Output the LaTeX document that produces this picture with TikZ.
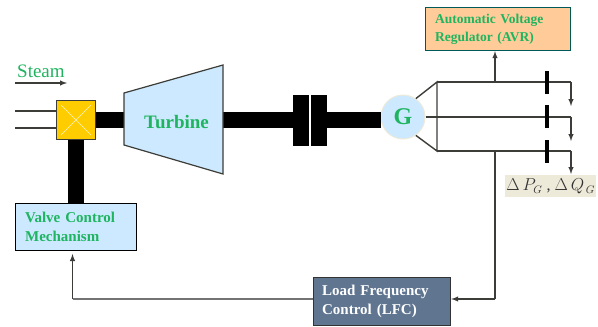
\documentclass[tikz,border=0pt]{standalone}
\usepackage{fontspec}
\setmainfont{Liberation Serif}
\definecolor{boxblue}{HTML}{CCE9FF}
\definecolor{boxorange}{HTML}{FFCC99}
\definecolor{boxslate}{HTML}{5F7590}
\definecolor{valveyellow}{HTML}{FFCC00}
\definecolor{labelgreen}{HTML}{1FB45F}
\definecolor{labelbeige}{HTML}{EEEADA}
\definecolor{linegray}{HTML}{3C3C38}
\tikzset{
	shaft/.style={line width=16pt,black},
	wire/.style={line width=1.4pt,linegray},
	wirearrow/.style={wire,-latex},
	breaker/.style={draw=none,fill=black,minimum width=3.5pt,minimum height=23pt,inner sep=0pt},
	ctrlbox/.style={draw,line width=1.2pt,align=left,anchor=north west,inner sep=0pt,font=\fontsize{15}{19}\selectfont\bfseries},
	couplingbox/.style={fill=black,minimum width=16pt,minimum height=51pt,inner sep=0pt}
}
\begin{document}
\begin{tikzpicture}[x=1pt,y=-1pt]
	\useasboundingbox[fill=white] (0,0) rectangle (598,327);
	% named points
	\coordinate (inA) at (15,111);
	\coordinate (inB) at (15,128);
	\coordinate (turbineIn) at (124,120);
	\coordinate (turbineOut) at (223,120);
	\coordinate (busTop) at (437,82);
	\coordinate (busBottom) at (437,151);
	\coordinate (topEnd) at (571,82);
	\coordinate (midEnd) at (571,117);
	\coordinate (lowEnd) at (571,151);
	\coordinate (topTip) at (571,106);
	\coordinate (midTip) at (571,141);
	\coordinate (lowTip) at (571,174);
	\coordinate (avrTap) at (495,82);
	\coordinate (lfcTap) at (495,151);
	\coordinate (lfcCorner) at (495,299);
	\coordinate (valveCorner) at (72.5,299);
	\coordinate (valveTip) at (72.5,254);
	\coordinate (steamA) at (15,83);
	\coordinate (steamB) at (67,83);

	% boxes
	\node[draw=linegray,line width=1.2pt,fill=valveyellow,minimum size=39pt,inner sep=0pt] (valve) at (76,120) {};
	\node[ctrlbox,fill=boxblue,minimum width=121pt,minimum height=47pt,text width=118pt,draw=black] (vcm) at (15,203) {\hspace*{8pt}\textcolor{labelgreen}{Valve Control}\\\hspace*{8pt}\textcolor{labelgreen}{Mechanism}};
	\node[ctrlbox,fill=boxorange,minimum width=145pt,minimum height=43pt,text width=142pt,draw=teal!70!black,font=\fontsize{13.5}{17.5}\selectfont\bfseries] (avr) at (425,7) {\hspace*{8pt}\textcolor{labelgreen}{Automatic Voltage}\\\hspace*{8pt}\textcolor{labelgreen}{Regulator (AVR)}};
	\node[ctrlbox,fill=boxslate,minimum width=137pt,minimum height=48pt,text width=134pt,draw=black!80] (lfc) at (313,277) {\hspace*{7pt}\textcolor{white}{Load Frequency}\\\hspace*{7pt}\textcolor{white}{Control (LFC)}};

	% shafts
	\node[couplingbox] (couplingA) at (301,120) {};
	\node[couplingbox] (couplingB) at (319,120) {};
	\node[circle,fill=boxblue,draw=labelbeige,line width=1pt,minimum size=44pt,inner sep=0pt,font=\fontsize{24}{24}\selectfont\bfseries,text=labelgreen] (gen) at (403,117) {G};
	\draw[shaft] (valve.east |- turbineIn) -- (turbineIn);
	\draw[shaft] (turbineOut) -- (couplingA.west);
	\draw[shaft] (couplingB.east) -- (gen.west |- couplingB.east);
	\draw[shaft] (valve.south) -- (valve.south |- vcm.north);

	% valve cross
	\draw[white!80!valveyellow,line width=0.7pt] (61,105) -- (91,135);
	\draw[white!80!valveyellow,line width=0.7pt] (91,105) -- (61,135);

	% turbine
	\draw[linegray,line width=1.2pt,fill=boxblue] (124,93) -- (223,65) -- (223,174) -- (124,145) -- cycle;
	\node[font=\fontsize{19}{19}\selectfont\bfseries,text=labelgreen] (turbine) at (176.5,122) {Turbine};

	% steam
	\node[anchor=west,inner sep=0pt,font=\fontsize{19}{19}\selectfont,text=labelgreen] (steam) at (17,71) {Steam};
	\draw[wirearrow] (steamA) -- (steamB);
	\draw[wire] (inA) -- (inA -| valve.west);
	\draw[wire] (inB) -- (inB -| valve.west);

	% generator outputs
	\draw[wire] (gen.55) -- (busTop) -- (busBottom) -- (gen.-55);
	\draw[wire] (busTop) -- (topEnd);
	\draw[wire] (gen.east) -- (midEnd);
	\draw[wire] (busBottom) -- (lowEnd);
	\draw[wirearrow] (topEnd) -- (topTip);
	\draw[wirearrow] (midEnd) -- (midTip);
	\draw[wirearrow] (lowEnd) -- (lowTip);
	\node[breaker] (brkA) at (547,82.5) {};
	\node[breaker] (brkB) at (547,116.5) {};
	\node[breaker] (brkC) at (547,151.5) {};
	\draw[wirearrow] (avrTap) -- (avrTap |- avr.south);

	% feedback
	\draw[wire] (lfcTap) -- (lfcCorner);
	\draw[wirearrow] (lfcCorner) -- (lfc.east |- lfcCorner);
	\draw[wire,draw=gray!90!black] (lfc.west |- lfcCorner) -- (valveCorner);
	\draw[wirearrow] (valveCorner) -- (valveTip);

	% measured values
	\node[fill=labelbeige,anchor=north west,minimum width=91pt,minimum height=22pt,inner sep=0pt,font=\fontsize{16}{16}\selectfont,text=black!80] (delta) at (505,175) {$\Delta\,P_{G}$ , $\Delta\,Q_{\,G}$};
\end{tikzpicture}
\end{document}
